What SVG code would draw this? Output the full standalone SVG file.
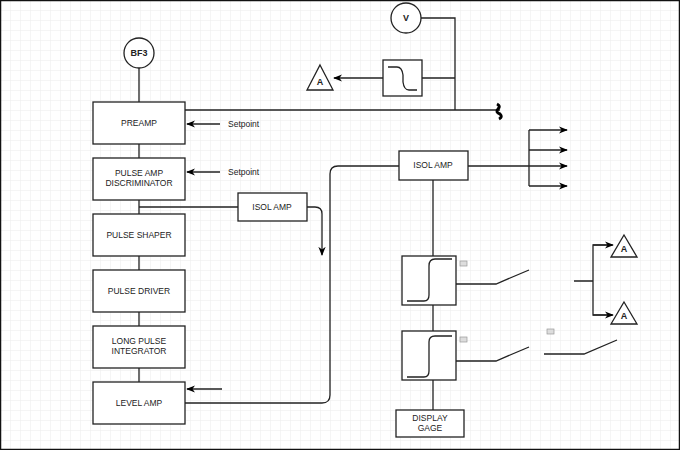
<svg xmlns="http://www.w3.org/2000/svg" width="680" height="450" viewBox="0 0 680 450">
<defs>
<pattern id="g" width="10" height="10" patternUnits="userSpaceOnUse"><path d="M10 0H0V10" fill="none" stroke="#ececec" stroke-width="1"/></pattern>
<marker id="ar" viewBox="0 0 10 10" refX="9" refY="5" markerWidth="7" markerHeight="7" orient="auto"><path d="M0 1L10 5L0 9L3 5Z" fill="#000"/></marker>
<style>
.b{fill:#fff;stroke:#222;stroke-width:1.3}
.l{fill:none;stroke:#222;stroke-width:1.3}
.t{font-family:"Liberation Sans",Arial,sans-serif;font-size:8.5px;fill:#222;text-anchor:middle}
.s{font-family:"Liberation Sans",Arial,sans-serif;font-size:8.5px;fill:#222}
.bt{font-family:"Liberation Sans",Arial,sans-serif;font-size:9px;font-weight:bold;fill:#222;text-anchor:middle}
</style>
</defs>
<rect width="680" height="450" fill="#fff"/>
<rect width="680" height="450" fill="url(#g)"/>
<rect x="0.5" y="0.5" width="679" height="449" fill="none" stroke="#111" stroke-width="1.5"/>
<g id="connectors">
<path class="l" d="M139 68V102M139 144V158M139 200V214M139 256V270M139 312V326M139 368V382"/>
<path class="l" d="M185 110H500"/>
<path class="l" d="M421 18H455V110M422 78H455"/>
<path class="l" d="M383 78H334" marker-end="url(#ar)"/>
<path class="l" d="M220 124H187" marker-end="url(#ar)"/>
<path class="l" d="M220 172H187" marker-end="url(#ar)"/>
<path class="l" d="M139 207H238"/>
<path class="l" d="M307 207H315Q322 207 322 214V255" marker-end="url(#ar)"/>
<path class="l" d="M222 389H187" marker-end="url(#ar)"/>
<path class="l" d="M185 403H322Q330 403 330 395V174Q330 166 338 166H399"/>
<path class="l" d="M468 166H529M529 130V186"/>
<path class="l" d="M529 130H567" marker-end="url(#ar)"/>
<path class="l" d="M529 150H567" marker-end="url(#ar)"/>
<path class="l" d="M529 166H567" marker-end="url(#ar)"/>
<path class="l" d="M529 186H567" marker-end="url(#ar)"/>
<path class="l" d="M433 180V256M433 305V331M433 380V410"/>
<path class="l" d="M456 284H496L529 270"/>
<path class="l" d="M456 361H496L529 347"/>
<path class="l" d="M544 354H584L617 340"/>
<path class="l" d="M574 281H593V245H612M593 281V315H612"/>
<path class="l" d="M593 245H613" marker-end="url(#ar)"/>
<path class="l" d="M593 315H613" marker-end="url(#ar)"/>
<path d="M497 104q4 2 1 5t2 5q3 3-1 5" fill="none" stroke="#000" stroke-width="3"/>
</g>
<g id="bf3"><circle class="b" cx="139" cy="53" r="15"/><text class="bt" x="139" y="56">BF3</text></g>
<g id="v"><circle class="b" cx="406" cy="18" r="15"/><text class="bt" x="406" y="21">V</text></g>
<g id="filter"><rect class="b" x="383" y="60" width="39" height="36"/><path class="l" d="M388 67H397Q402 67 403 75V82Q404 90 409 90H417"/></g>
<g id="a1"><path class="b" d="M320 65L333 90H307Z"/><text class="bt" x="320" y="85">A</text></g>
<g id="preamp"><rect class="b" x="93" y="102" width="92" height="42"/><text class="t" x="139" y="126">PREAMP</text></g>
<g id="pad"><rect class="b" x="93" y="158" width="92" height="42"/><text class="t" x="139" y="176">PULSE AMP</text><text class="t" x="139" y="186">DISCRIMINATOR</text></g>
<g id="shaper"><rect class="b" x="93" y="214" width="92" height="42"/><text class="t" x="139" y="238">PULSE SHAPER</text></g>
<g id="driver"><rect class="b" x="93" y="270" width="92" height="42"/><text class="t" x="139" y="294">PULSE DRIVER</text></g>
<g id="lpi"><rect class="b" x="93" y="326" width="92" height="42"/><text class="t" x="139" y="344">LONG PULSE</text><text class="t" x="139" y="354">INTEGRATOR</text></g>
<g id="level"><rect class="b" x="93" y="382" width="92" height="42"/><text class="t" x="139" y="406">LEVEL AMP</text></g>
<g id="sp1"><text class="s" x="228" y="127">Setpoint</text></g>
<g id="sp2"><text class="s" x="228" y="175">Setpoint</text></g>
<g id="isol1"><rect class="b" x="238" y="193" width="69" height="28"/><text class="t" x="272" y="210">ISOL AMP</text></g>
<g id="isol2"><rect class="b" x="399" y="151" width="69" height="29"/><text class="t" x="433" y="168">ISOL AMP</text></g>
<g id="sw1"><rect class="b" x="402" y="256" width="54" height="49"/><path class="l" d="M407 301H424Q429 301 429 295V266Q429 259 435 259H452"/><rect x="460" y="261" width="7" height="5" fill="#ddd" stroke="#999" stroke-width="0.7"/></g>
<g id="sw2"><rect class="b" x="402" y="331" width="54" height="49"/><path class="l" d="M407 377H424Q429 377 429 371V342Q429 336 435 336H452"/><rect x="460" y="337" width="7" height="5" fill="#ddd" stroke="#999" stroke-width="0.7"/><rect x="547" y="329" width="7" height="5" fill="#ddd" stroke="#999" stroke-width="0.7"/></g>
<g id="display"><rect class="b" x="396" y="410" width="68" height="27"/><text class="t" x="430" y="421">DISPLAY</text><text class="t" x="430" y="431">GAGE</text></g>
<g id="a2"><path class="b" d="M624 235L637 257H611Z"/><text class="bt" x="624" y="252">A</text></g>
<g id="a3"><path class="b" d="M624 302L637 324H611Z"/><text class="bt" x="624" y="319">A</text></g>
</svg>
